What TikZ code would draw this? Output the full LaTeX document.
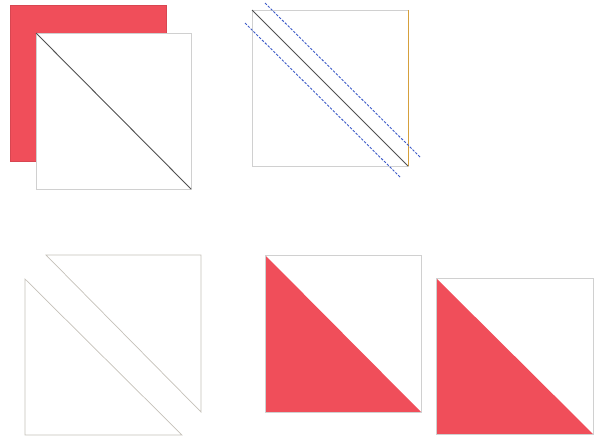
\documentclass[tikz,border=0pt]{standalone}
\usepackage{tikz}
\usetikzlibrary{positioning,calc}
\definecolor{foldRed}{RGB}{240,78,90}
\definecolor{foldEdge}{RGB}{208,208,208}
\definecolor{foldInk}{RGB}{80,80,80}
\definecolor{foldCut}{RGB}{60,90,200}
\definecolor{foldSide}{RGB}{214,160,60}
\definecolor{foldThin}{RGB}{196,192,184}
\tikzset{
    paper/.style={draw=foldEdge, fill=white, line width=0.8pt},
    paperRed/.style={draw=foldRed!90!black, fill=foldRed, line width=0.6pt},
    crease/.style={draw=foldInk, line width=0.9pt},
    cutline/.style={draw=foldCut, line width=0.9pt, dash pattern=on 2.5pt off 1.5pt},
    halfEdge/.style={draw=foldThin, line width=0.7pt, line join=miter}
}
\begin{document}
\begin{tikzpicture}[x=1pt, y=-1pt]
\useasboundingbox (0,0) rectangle (594,437);

% panel 1: two sheets, top one with crease
\draw[paperRed] (10,5) rectangle (166,161);
\draw[paper] (36,33) rectangle (191,189);
\coordinate (a1) at (36,33);
\coordinate (a2) at (191,189);
\draw[crease] (a1) -- (a2);

% panel 2: crease with cut guides
\draw[paper] (252,10) rectangle (408,166);
\coordinate (b1) at (252,10);
\coordinate (b2) at (408,166);
\coordinate (b3) at (408,10);
\draw[draw=foldSide, line width=1pt] (b3) -- (b2);
\draw[crease] (b1) -- (b2);
\coordinate (u1) at (265,3);
\coordinate (u2) at (420,157);
\coordinate (l1) at (245,23);
\coordinate (l2) at (401,178);
\draw[cutline] (u1) -- (u2);
\draw[cutline] (l1) -- (l2);

% panel 3: the two halves pulled apart
\draw[halfEdge] (46,255) -- (201,255) -- (201,412) -- cycle;
\draw[halfEdge] (25,279) -- (25,435) -- (182,435) -- cycle;

% panel 4: half-square triangle units
\fill[white] (265,255) rectangle (421,412);
\fill[foldRed] (265,255) -- (421,412) -- (265,412) -- cycle;
\draw[foldEdge, line width=0.8pt] (265,255) rectangle (421,412);
\fill[white] (436,278) rectangle (593,434);
\fill[foldRed] (436,278) -- (593,434) -- (436,434) -- cycle;
\draw[foldEdge, line width=0.8pt] (436,278) rectangle (593,434);
\end{tikzpicture}
\end{document}
